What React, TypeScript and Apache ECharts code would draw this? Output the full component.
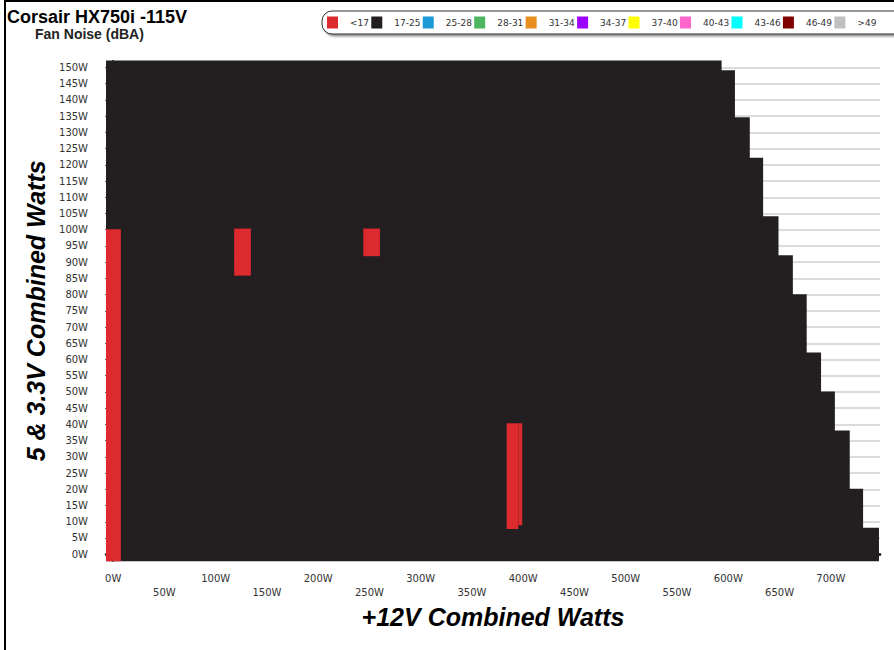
import React, { useEffect, useRef } from "react";
import * as echarts from "echarts";

// Fan noise bands (dBA) and their legend colours
const noiseBands = ["<17", "17-25", "25-28", "28-31", "31-34", "34-37", "37-40", "40-43", "43-46", "46-49", ">49"];
const bandColors = [
  "#dc2a2e", "#231f20", "#1b9ad6", "#4cb55e", "#e88e1e", "#9b00ff",
  "#ffff00", "#ff66cc", "#00ffff", "#800000", "#c0c0c0",
];

// Axis extents (watts)
const X_MIN = -7;
const X_MAX = 748;
const Y_MIN = -2;
const Y_MAX = 152;

// 17-25 dBA region, one row per 5V & 3.3V band: [5V/3.3V from, 5V/3.3V to, highest +12V load]
const quietRows = [
  [-2, 8, 747],
  [8, 20, 731.5],
  [20, 38, 718.5],
  [38, 50, 704],
  [50, 62, 690.5],
  [62, 80, 676.5],
  [80, 92, 663],
  [92, 104, 649],
  [104, 122, 634],
  [122, 134.5, 621],
  [134.5, 149, 606.5],
  [149, 152, 593.5],
];

// <17 dBA cells: [+12V from, +12V to, 5V/3.3V from, 5V/3.3V to]
const silentCells = [
  [-7, 7.5, -2, 100],
  [118, 134.3, 86, 100.2],
  [244, 260.2, 92, 100.2],
  [383.8, 395.2, 7.9, 40.2],
  [395.2, 399, 9.1, 40.2],
];

// Tick labels
const yTicks = [0, 5, 10, 15, 20, 25, 30, 35, 40, 45, 50, 55, 60, 65, 70, 75, 80, 85, 90, 95, 100, 105, 110, 115, 120, 125, 130, 135, 140, 145, 150];
const xTicks = [0, 50, 100, 150, 200, 250, 300, 350, 400, 450, 500, 550, 600, 650, 700];
const X_MINOR_STEP = 12.5;

const xMinorTicks: number[] = [];
for (let v = 0; v <= X_MAX; v += X_MINOR_STEP) xMinorTicks.push(v);

const quietCells = quietRows.map(([y0, y1, xMax]) => [X_MIN, xMax, y0, y1]);

// Each cell is a rectangle in axis units; a half-pixel overlap keeps neighbouring cells seamless.
const renderCell = (params: any, api: any) => {
  const a = api.coord([api.value(0), api.value(3)]);
  const b = api.coord([api.value(1), api.value(2)]);
  return {
    type: "rect",
    shape: { x: a[0], y: a[1] - 0.5, width: b[0] - a[0], height: b[1] - a[1] + 1 },
    style: { fill: api.visual("color") },
  };
};

const labelFont = { fontFamily: "DejaVu Sans", fontSize: 10, color: "#333" };
const axisTitleFont = {
  fontFamily: "Liberation Sans",
  fontSize: 25,
  fontWeight: "bold" as const,
  fontStyle: "italic" as const,
  color: "#000",
};

const option: any = {
  animation: false,
  backgroundColor: "#fff",
  color: bandColors,
  title: [
    {
      text: "Corsair HX750i -115V",
      left: 7,
      top: 8,
      padding: 0,
      textStyle: { fontFamily: "Liberation Sans", fontSize: 18, lineHeight: 18, fontWeight: "bold", color: "#000" },
    },
    {
      text: "Fan Noise (dBA)",
      left: 35,
      top: 27,
      padding: 0,
      textStyle: { fontFamily: "Liberation Sans", fontSize: 14, lineHeight: 14, fontWeight: "bold", color: "#222" },
    },
  ],
  legend: {
    left: 322,
    top: 11,
    width: 560,
    orient: "horizontal",
    icon: "rect",
    itemWidth: 11,
    itemHeight: 12,
    itemGap: 2.3,
    selectedMode: false,
    padding: [5.5, 48, 5.5, 5],
    backgroundColor: "#fff",
    borderColor: "#333",
    borderWidth: 1,
    borderRadius: 10,
    shadowColor: "rgba(0,0,0,0.45)",
    shadowBlur: 2,
    shadowOffsetX: 2,
    shadowOffsetY: 2,
    textStyle: {
      fontFamily: "DejaVu Sans",
      fontSize: 9,
      color: "#333",
      width: 22,
      padding: [0, 0, 0, 7],
    },
    data: noiseBands,
  },
  grid: { left: 106, right: 14, top: 61, bottom: 89.3, outerBoundsMode: "none" },
  xAxis: [
    {
      type: "value",
      min: X_MIN,
      max: X_MAX,
      position: "bottom",
      axisLine: { show: true, lineStyle: { color: "#000", width: 2.5 } },
      axisTick: { show: true, length: 6, customValues: xTicks, lineStyle: { color: "#222", width: 1 } },
      axisLabel: {
        ...labelFont,
        customValues: xTicks,
        margin: 11,
        lineHeight: 14,
        formatter: (v: number) => (Math.round(v / 50) % 2 === 1 ? `\n${v}W` : `${v}W`),
      },
      splitLine: { show: false },
      name: "+12V Combined Watts",
      nameLocation: "middle",
      nameGap: 38,
      nameTextStyle: axisTitleFont,
    },
    {
      type: "value",
      min: X_MIN,
      max: X_MAX,
      position: "bottom",
      axisLine: { show: false },
      axisTick: { show: true, length: 3.5, customValues: xMinorTicks, lineStyle: { color: "#222", width: 1 } },
      axisLabel: { show: false },
      splitLine: { show: false },
    },
  ],
  yAxis: [
    {
      type: "value",
      min: Y_MIN,
      max: Y_MAX,
      position: "left",
      axisLine: { show: true, lineStyle: { color: "#111", width: 2 } },
      axisTick: { show: true, length: 8, customValues: yTicks, lineStyle: { color: "#333", width: 1 } },
      axisLabel: {
        ...labelFont,
        customValues: yTicks,
        margin: 18,
        formatter: (v: number) => `${v}W`,
      },
      splitLine: { show: true, lineStyle: { color: "#cfcfcf", width: 1.5 } },
      name: "5 & 3.3V Combined Watts",
      nameLocation: "middle",
      nameGap: 53,
      nameRotate: 90,
      nameTextStyle: axisTitleFont,
    },
    {
      type: "value",
      min: Y_MIN,
      max: Y_MAX,
      interval: 1,
      position: "left",
      axisLine: { show: false },
      axisTick: { show: true, length: 3, lineStyle: { color: "#555", width: 1 } },
      axisLabel: { show: false },
      splitLine: { show: false },
    },
  ],
  graphic: [
    {
      type: "rect",
      silent: true,
      z: 100,
      shape: { x: 5, y: 1, width: 1000, height: 1000 },
      style: { fill: "none", stroke: "#000", lineWidth: 2 },
    },
  ],
  series: noiseBands.map((name, i) => ({
    type: "custom",
    name,
    coordinateSystem: "cartesian2d",
    xAxisIndex: 0,
    yAxisIndex: 0,
    z: i === 0 ? 3 : 2,
    encode: { x: [0, 1], y: [2, 3] },
    renderItem: renderCell,
    data: i === 0 ? silentCells : i === 1 ? quietCells : [],
  })),
};

export default function App() {
  const ref = useRef<HTMLDivElement>(null);
  useEffect(() => {
    const chart = echarts.init(ref.current!, null, { renderer: "svg" });
    chart.setOption(option);
    return () => chart.dispose();
  }, []);
  return (
    <div
      ref={ref}
      style={{ position: "fixed", left: 0, top: 0, width: 894, height: 650, background: "#fff" }}
    />
  );
}
